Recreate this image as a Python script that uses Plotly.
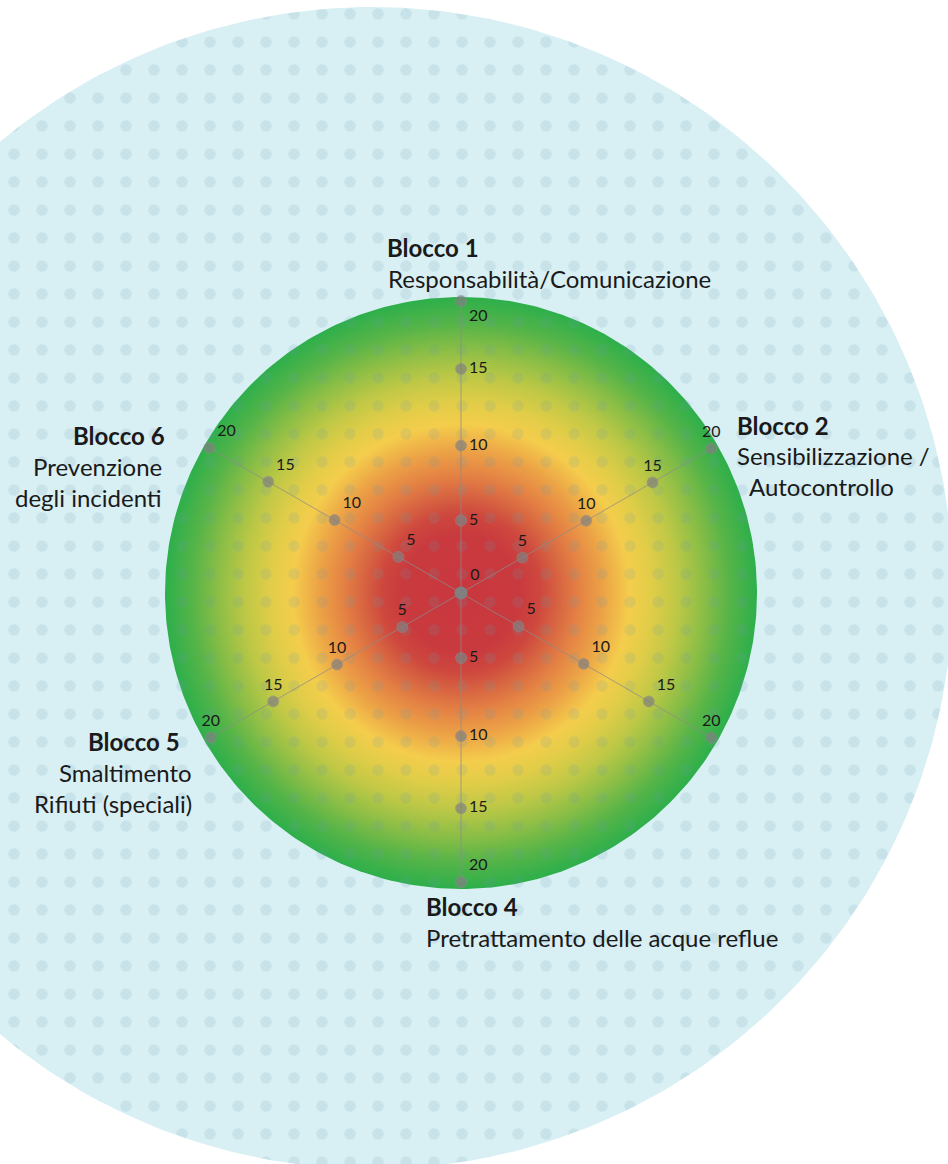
import numpy as np
import plotly.graph_objects as go

# ---------------- data ----------------
categories = ["Blocco 1", "Blocco 2", "Blocco 3", "Blocco 4", "Blocco 5", "Blocco 6"]
ring_labels = ["5", "10", "15", "20"]
center_label = "0"
# positions of the ring points along each axis
b1_values = [5.0, 10.2, 15.5, 20.2]
b2_values = [4.9, 10.0, 15.3, 20.0]
b3_values = [4.6, 9.8, 15.0, 20.0]
b4_values = [4.5, 9.9, 14.9, 20.0]
b5_values = [4.7, 9.9, 15.0, 20.0]
b6_values = [5.0, 10.1, 15.4, 20.1]
axis_values = [b1_values, b2_values, b3_values, b4_values, b5_values, b6_values]

block_titles = ["Blocco 1", "Blocco 2", "Blocco 4", "Blocco 5", "Blocco 6"]
block_subtitles = [
    ["Responsabilità/Comunicazione"],
    ["Sensibilizzazione /", "Autocontrollo"],
    ["Pretrattamento delle acque reflue"],
    ["Smaltimento", "Rifiuti (speciali)"],
    ["Prevenzione", "degli incidenti"],
]

# ---------------- layout constants (pixels) ----------------
W, H = 948, 1164
BG_CX, BG_CY, BG_R = 372, 588, 581
DISC_CX, DISC_CY, DISC_R = 461, 593, 296
R_MAX = 20.48

FONT = "Lato"
TXT = "#1a1a1a"
POINT = "#808080"

text_positions = [
    ["middle right", "middle right", "middle right", "bottom right"],
    ["top center", "top center", "top center", "top center"],
    ["top right", "top right", "top right", "top center"],
    ["middle right", "middle right", "middle right", "top right"],
    ["top center", "top center", "top center", "top center"],
    ["top right", "top right", "top right", "top right"],
]

# title positions: (x, y of title, y step, anchor, x of sublines)
title_layout = [
    (385, 247.5, 30.5, "left", [386]),
    (735, 425, 30.5, "left", [735, 747]),
    (424, 906, 31, "left", [424]),
    (182, 741, 31, "right", [194, 194]),
    (167, 435, 31, "right", [164, 164]),
]

gradient_scale = [
    [0.0, "rgb(200,55,62)"], [0.2, "rgb(201,58,62)"], [0.27, "rgb(206,72,62)"],
    [0.33, "rgb(215,100,65)"], [0.40, "rgb(228,130,68)"], [0.48, "rgb(236,162,70)"],
    [0.57, "rgb(244,205,76)"], [0.64, "rgb(226,205,72)"], [0.73, "rgb(190,200,70)"],
    [0.82, "rgb(140,190,70)"], [0.91, "rgb(85,180,72)"], [1.0, "rgb(45,175,75)"],
]

t = np.linspace(0, 2 * np.pi, 361)

fig = go.Figure()

# big light-blue background circle
fig.add_trace(go.Scatter(
    x=BG_CX + BG_R * np.cos(t), y=BG_CY + BG_R * np.sin(t),
    mode="lines", fill="toself", fillcolor="#d8eff4",
    line=dict(width=0, color="rgba(0,0,0,0)"), hoverinfo="skip", showlegend=False))

# radial gradient disc
fig.add_trace(go.Scatter(
    x=DISC_CX + DISC_R * np.cos(t), y=DISC_CY + DISC_R * np.sin(t),
    mode="lines", fill="toself",
    fillgradient=dict(type="radial", colorscale=gradient_scale),
    line=dict(width=0, color="rgba(0,0,0,0)"), hoverinfo="skip", showlegend=False))

# dotted pattern overlay
fig.add_trace(go.Scatter(
    x=BG_CX + BG_R * np.cos(t), y=BG_CY + BG_R * np.sin(t),
    mode="lines", fill="toself", fillcolor="rgba(0,0,0,0)",
    fillpattern=dict(shape=".", size=28, solidity=0.13, bgcolor="rgba(0,0,0,0)",
                     fgcolor="rgb(100,150,165)", fgopacity=0.15),
    line=dict(width=0, color="rgba(0,0,0,0)"), hoverinfo="skip", showlegend=False))

# spokes with ring points
for cat, vals, pos in zip(categories, axis_values, text_positions):
    fig.add_trace(go.Scatterpolar(
        r=[0] + vals, theta=[cat] * (len(vals) + 1),
        mode="lines+markers+text",
        line=dict(color="rgba(140,140,140,0.75)", width=1),
        marker=dict(color=POINT, size=[0] + [11] * len(vals)),
        text=[""] + ring_labels, textposition=["middle center"] + pos,
        textfont=dict(family=FONT, size=16, color=TXT),
        hoverinfo="skip", showlegend=False, cliponaxis=False))

# center point
fig.add_trace(go.Scatterpolar(
    r=[0], theta=[categories[0]], mode="markers+text",
    marker=dict(color=POINT, size=13),
    text=[center_label], textposition="top right",
    textfont=dict(family=FONT, size=16, color=TXT),
    hoverinfo="skip", showlegend=False, cliponaxis=False))

annotations = []
for title, subs, (tx, ty, step, anchor, subx) in zip(block_titles, block_subtitles, title_layout):
    annotations.append(dict(x=tx, y=ty, xref="x", yref="y", text="<b>" + title + "</b>",
                            showarrow=False, xanchor=anchor, yanchor="middle",
                            font=dict(family=FONT, size=24, color=TXT)))
    for i, (s, sx) in enumerate(zip(subs, subx)):
        annotations.append(dict(x=sx, y=ty + step * (i + 1), xref="x", yref="y", text=s,
                                showarrow=False, xanchor=anchor, yanchor="middle",
                                font=dict(family=FONT, size=24, color=TXT)))

fig.update_layout(
    width=W, height=H, margin=dict(l=0, r=0, t=0, b=0),
    paper_bgcolor="white", plot_bgcolor="white",
    xaxis=dict(range=[0, W], visible=False, fixedrange=True),
    yaxis=dict(range=[H, 0], visible=False, fixedrange=True),
    polar=dict(
        domain=dict(x=[(DISC_CX - DISC_R) / W, (DISC_CX + DISC_R) / W],
                    y=[(H - DISC_CY - DISC_R) / H, (H - DISC_CY + DISC_R) / H]),
        bgcolor="rgba(0,0,0,0)",
        radialaxis=dict(range=[0, R_MAX], visible=False, showgrid=False),
        angularaxis=dict(type="category", categoryorder="array", categoryarray=categories,
                         rotation=90, direction="clockwise", visible=False,
                         showgrid=False, showline=False),
    ),
    annotations=annotations,
    showlegend=False,
)

fig.write_html("out.html", config={"displayModeBar": False, "staticPlot": True},
               post_script="document.body.style.margin='0';document.body.style.overflow='hidden';")
